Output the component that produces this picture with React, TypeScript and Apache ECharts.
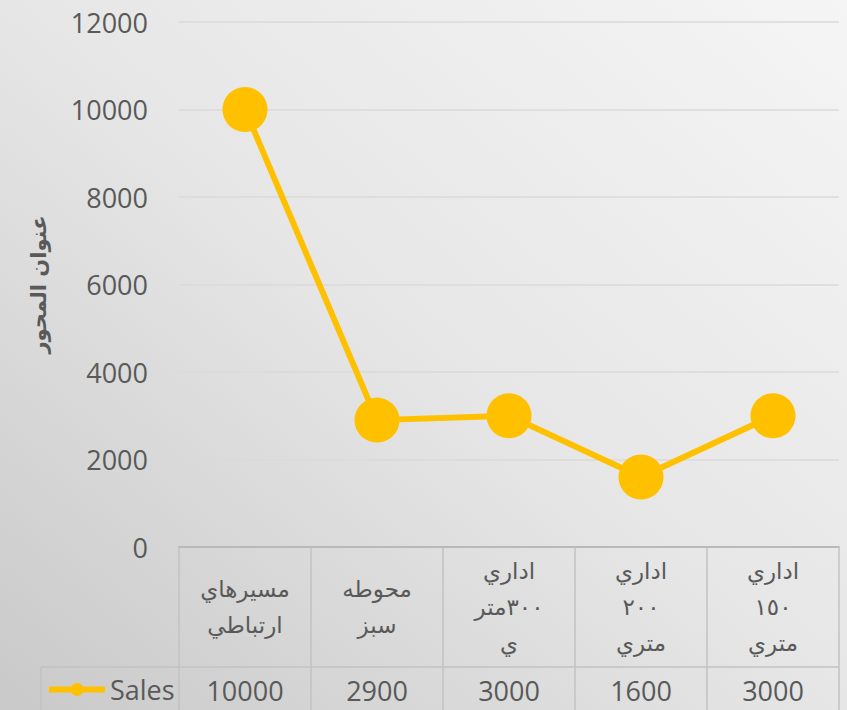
import React, { useEffect, useRef } from "react";
import * as echarts from "echarts";

const categories = [
  "مسيرهاي\nارتباطي",
  "محوطه\nسبز",
  "اداري\n٣٠٠متر\nي",
  "اداري\n٢٠٠\nمتري",
  "اداري\n١٥٠\nمتري",
];
const salesValues = [10000, 2900, 3000, 1600, 3000];
const seriesName = "Sales";
const yAxisTitle = "عنوان المحور";
const yMin = 0;
const yMax = 12000;
const yInterval = 2000;

const W = 847;
const H = 710;
const GRID_LEFT = 179;
const GRID_RIGHT = 8;
const GRID_TOP = 22;
const GRID_BOTTOM = 163;
const ROW1 = 120;
const TEXT = "#595959";
const LATIN = "'Open Sans', 'Liberation Sans', sans-serif";
const ARABIC = "'DejaVu Sans', sans-serif";

export default function App() {
  const ref = useRef<HTMLDivElement>(null);
  useEffect(() => {
    document.body.style.margin = "0";
    const chart = echarts.init(ref.current!, undefined, { renderer: "svg" });
    const axisY = H - GRID_BOTTOM;
    const rowY = axisY + ROW1;
    chart.setOption({
      animation: false,
      backgroundColor: {
        type: "linear",
        x: 1,
        y: 0,
        x2: 0,
        y2: 1,
        colorStops: [
          { offset: 0, color: "#f5f5f5" },
          { offset: 0.5, color: "#e6e6e6" },
          { offset: 1, color: "#c9c9c9" },
        ],
      },
      grid: {
        left: GRID_LEFT,
        right: GRID_RIGHT,
        top: GRID_TOP,
        bottom: GRID_BOTTOM,
        containLabel: false,
      },
      legend: {
        data: [seriesName],
        left: 41,
        top: rowY + 4,
        itemWidth: 56,
        itemHeight: 16,
        lineStyle: { width: 6 },
        textStyle: { color: TEXT, fontSize: 27, fontFamily: LATIN },
        itemGap: 4,
      },
      xAxis: [
        {
          type: "category",
          data: categories,
          boundaryGap: true,
          axisLine: { show: true, lineStyle: { color: "#b9b9b9", width: 2 } },
          axisTick: {
            show: true,
            interval: 0,
            length: GRID_BOTTOM,
            lineStyle: { color: "#c2c2c2", width: 1.5 },
          },
          axisLabel: {
            interval: 0,
            margin: ROW1 / 2,
            verticalAlign: "middle",
            color: TEXT,
            fontSize: 23,
            lineHeight: 36,
            fontFamily: ARABIC,
          },
          splitLine: { show: false },
        },
        {
          type: "category",
          data: salesValues.map((v) => String(v)),
          position: "bottom",
          offset: ROW1,
          boundaryGap: true,
          axisLine: { show: false },
          axisTick: { show: false },
          axisLabel: {
            interval: 0,
            margin: 23,
            verticalAlign: "middle",
            color: TEXT,
            fontSize: 27,
            fontFamily: LATIN,
          },
        },
      ],
      yAxis: {
        type: "value",
        min: yMin,
        max: yMax,
        interval: yInterval,
        name: yAxisTitle,
        nameLocation: "middle",
        nameRotate: 90,
        nameGap: 130,
        nameTextStyle: { color: TEXT, fontSize: 21, fontWeight: "bold", fontFamily: ARABIC },
        axisLine: { show: false },
        axisTick: { show: false },
        axisLabel: {
          color: TEXT,
          fontSize: 27,
          fontFamily: LATIN,
          margin: 31,
          formatter: (v: number) => String(v),
        },
        splitLine: { lineStyle: { color: "#dadada", width: 1.5 } },
      },
      series: [
        {
          name: seriesName,
          type: "line",
          data: salesValues,
          xAxisIndex: 0,
          symbol: "circle",
          symbolSize: 45,
          lineStyle: { color: "#FFC000", width: 6 },
          itemStyle: { color: "#FFC000" },
          color: "#FFC000",
          z: 5,
        },
      ],
      graphic: [
        {
          type: "line",
          shape: { x1: 41, y1: rowY, x2: W - GRID_RIGHT, y2: rowY },
          style: { stroke: "#c2c2c2", lineWidth: 1.5 },
        },
        {
          type: "line",
          shape: { x1: 41, y1: rowY, x2: 41, y2: H },
          style: { stroke: "#c2c2c2", lineWidth: 1.5 },
        },
      ],
    });
    return () => chart.dispose();
  }, []);
  return (
    <div
      ref={ref}
      style={{ position: "fixed", left: 0, top: 0, width: W, height: H }}
    />
  );
}
